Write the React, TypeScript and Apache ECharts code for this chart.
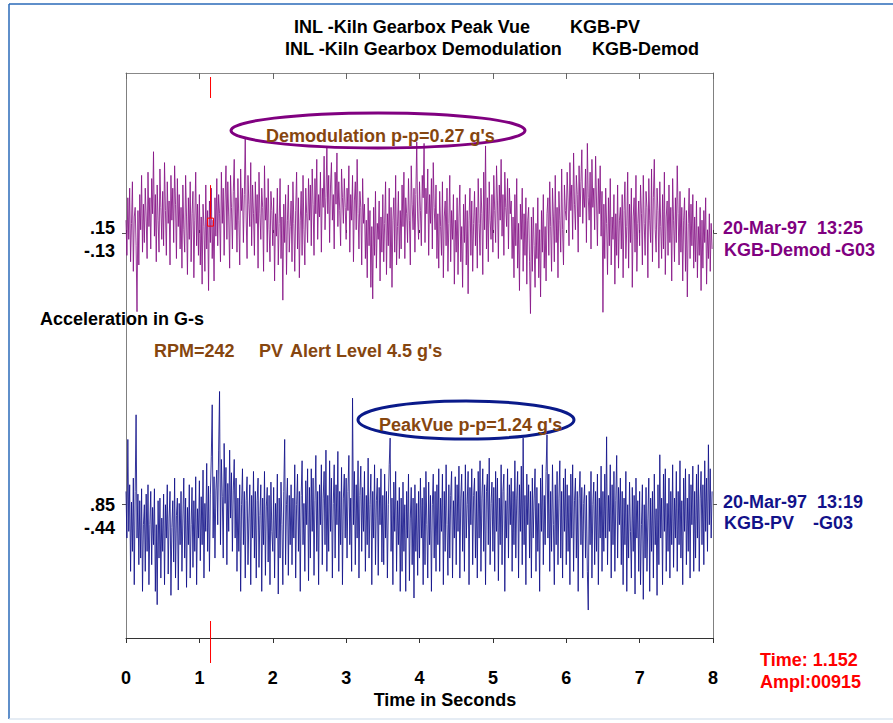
import React, { useEffect, useRef } from "react";
import * as echarts from "echarts";

// ---- Data ----
const sampleStepSeconds = 0.0125;
const timeTicks = [0, 1, 2, 3, 4, 5, 6, 7, 8];

// Demodulation waveform, milli-g
const demodMilliG = [
  20, -35, 55, -10, 70, -45, 15, 80, -60, 25, 40, -20, -123, 35, -50, 60, 5, 90, -30, 45,
  -15, 70, 25, -40, 95, 10, 55, -25, 85, 30, 127, -5, 60, -45, 75, 20, -30, 100, 40, -10,
  65, -20, 110, 35, -35, 80, 15, 50, -50, 90, 20, 70, -15, 105, 45, -40, 85, 10, 60, -25,
  40, -55, 75, 5, -30, 90, 25, -65, 55, -10, 80, -45, 30, 65, -70, 20, 95, -20, 45, -35,
  60, -50, 25, -80, 45, 10, -60, 75, -25, 35, -90, 50, -15, 70, -40, 20, -75, 55, -5, 85,
  -20, 60, 30, -45, 95, 15, 70, -35, 50, 105, -10, 80, 25, -55, 90, 40, -25, 65, 115, 5,
  55, -30, 85, 20, -50, 100, 35, 70, -15, 60, 150, 25, -40, 90, 45, 10, 110, -20, 75, 30,
  -35, 80, 15, 60, -55, 95, 30, -10, 70, 40, -60, 105, 20, 55, -30, 85, 5, -45, 65, 35,
  -20, 55, -75, 30, -5, 70, -50, 15, 85, -40, 25, -105, 45, -15, 60, -65, 20, 75, -30, 10,
  50, -45, 80, 15, -60, 35, 95, -25, 55, -70, 20, 65, -35, 90, 5, -50, 70, 30, -15, 85,
  20, 75, -20, 100, 45, -35, 85, 30, 115, -10, 60, 25, 95, -30, 70, 40, 120, 5, 55, 134,
  30, 90, -15, 75, 110, 20, 60, -25, 95, 45, 125, 10, 80, 35, -20, 100, 55, 15, 85, 40,
  -10, 70, 35, 105, -30, 60, 20, 90, -45, 50, 80, 5, 115, 30, -25, 65, 40, -50, 85, 15,
  45, -40, 20, -70, 55, -20, 35, -85, 10, -103, 40, -35, 65, -55, 15, -10, 50, -75, 25, -30,
  60, -45, 15, 80, -65, 30, -20, 70, -55, 40, -85, 20, 55, -30, 90, -50, 10, 65, -40, 35,
  -25, 75, 10, 95, -40, 55, 30, -15, 85, 20, -50, 105, 45, 5, 70, -30, 60, 142, 25, -10,
  80, 35, -20, 90, 55, 140, -15, 70, 30, 100, -35, 60, 15, 85, -25, 110, 40, 5, 75, -40,
  30, -55, 65, 10, -35, 80, -70, 25, 50, -20, 70, -60, 15, 90, -45, 35, -10, 60, -80, 20,
  -30, 55, -65, 25, 75, -45, 10, -85, 45, -15, 60, -50, 35, -95, 20, 70, -35, 50, -60, 15,
  65, -20, 40, -55, 85, 15, -35, 70, 30, -65, 95, 5, 136, -25, 55, -45, 80, 20, -10, 60,
  -30, 90, 35, -15, 105, 50, -40, 75, 20, 115, -5, 60, -35, 95, 40, 10, 85, -25, 70, 30,
  50, -40, 25, -70, 60, -20, 85, -55, 15, -90, 45, -10, 70, -60, 30, -35, 55, -80, 20, 40,
  -45, -126, 25, -60, 40, -20, -85, 15, -40, 55, -70, 5, -100, 35, -30, 60, -55, 10, -75, 30,
  55, -35, 80, 10, -60, 70, 25, -45, 90, -15, 40, -70, 65, 20, -30, 100, 5, -50, 75, 35,
  20, 95, 50, -20, 110, 35, 75, -10, 125, 45, 5, 90, 60, -30, 105, 25, 80, 130, 15, 70,
  40, 100, -15, 140, 55, 20, 95, -25, 115, 40, 70, 5, 120, 50, -20, 85, 30, 105, -5, 65,
  -124, 45, -40, 70, 15, -65, 55, -20, 85, -50, 25, -10, 60, -80, 30, -35, 75, -55, 20, 40,
  -25, 60, -70, 35, 80, -40, 10, 95, -55, 45, -15, 70, -85, 25, 55, -30, 90, -60, 15, 50,
  -20, 75, 30, -50, 90, 15, -35, 65, 40, -70, 85, 20, -15, 100, -45, 55, 115, 5, -30, 70,
  35, -55, 80, 10, -40, 60, -25, 95, -65, 25, 50, -35, 75, -15, 40, -75, 85, 20, -45, 55,
  -15, 105, 30, -50, 65, -30, 40, -75, 20, 55, -60, 35, -100, 15, 70, -40, 45, -20, 60, -55,
  25, -45, 50, -70, 10, -35, 40, -90, 20, -55, 35, -15, 55, -80, 5, -40, 30, -60, 15, -25,
];

// PeakVue waveform, milli-g
const peakVueMilliG = [
  100, -250, 490, -200, 150, -500, 20, -350, 200, -600, 100, 675, -250, 80, -450, 30, -400, 120, -650, -150,
  0, -500, 80, -350, 150, -600, -150, 100, -450, -20, -300, 120, -650, -150, -750, 30, -400, 50, -550, -100,
  -350, 80, -600, 0, -250, 150, -520, -100, 100, -680, -170, 30, -430, 200, -550, -80, 50, -640, 10, -300,
  100, -500, -100, 200, -400, 50, -620, -20, -300, 150, -550, -150, 130, -470, 30, -350, 210, -600, -30, -250,
  180, -420, 60, -300, 260, -550, 10, -200, 310, -350, 140, -500, 80, 360, 750, -250, 210, -400, 110, 260,
  -150, 410, 850, -300, 340, 60, -400, 460, 10, 280, -450, 160, -200, 410, -100, 240, -350, 110, 340, -250,
  200, -500, 50, -350, 150, -650, 0, 270, -300, 100, -550, 30, 210, -450, -100, 150, -600, 70, -250, 250,
  -400, 100, -550, 30, 200, -470, -80, 150, -650, 50, -300, 250, -530, -10, 130, -430, 70, -600, 170, -200,
  -350, 130, -550, 10, -250, 230, -670, 50, -400, 170, -150, -600, 100, 490, -450, 0, 200, -530, 70, -300,
  150, -450, 50, -250, 300, -550, 0, 230, -350, 100, -650, 70, 330, -300, 10, -500, 180, -150, 270, -570,
  130, -400, 270, -200, 200, -530, 30, 370, -350, 100, -600, 150, -150, 300, -450, 50, 250, -300, 410, -500,
  70, -350, 330, -200, 200, -550, 10, 300, -400, 150, -150, 400, -500, 100, -300, 280, -600, 50, 230, -250,
  200, -400, 100, 370, -300, 50, -500, 800, -150, 250, -450, 150, -250, 330, -550, 70, 290, -350, 130, -200,
  250, -500, 70, -300, 350, -400, 0, 230, -600, 100, -250, 300, -450, 30, 200, -530, 130, -150, 270, -430,
  70, -450, 230, -250, 100, -550, 0, 300, 500, -350, 50, -600, 170, -200, 250, -500, 30, -300, 130, -650,
  50, -500, 170, -350, 0, -650, 100, -250, 230, -570, -100, 130, -450, 50, -700, 150, -350, 10, -530, 100,
  -400, 200, -250, 50, -600, 130, -450, 250, -150, -550, 170, -300, 70, -650, 0, 230, -400, 100, -500, 150,
  -300, 270, -500, 50, -200, 230, -600, 100, -350, 300, -150, -530, 150, -400, 70, 250, -550, 30, -250, 210,
  -450, 150, -200, 290, -550, 50, 230, -350, 100, -500, 300, -250, 0, 250, -600, 130, -150, 270, -450, 70,
  200, -400, 100, -550, 250, -250, 330, -500, 50, 270, -350, 150, -600, 100, 230, -300, 350, -450, 10, 170,
  -350, 130, -500, 250, -200, 200, -570, 50, -300, 300, -450, 100, 230, -650, 30, -250, 270, -400, 150, -150,
  200, -500, 100, -300, 330, -400, 50, 250, -550, 150, -200, 290, -450, 500, -300, 70, -600, 230, -150, 150,
  -400, 100, -550, 200, -250, 50, 270, -500, 130, -350, 10, -650, 200, -200, 300, -450, 70, -300, 250, 525,
  -250, 230, -500, 100, -350, 300, -150, -600, 150, -300, 250, -450, 50, 330, -400, 100, -550, 200, -200, 270,
  -450, 150, -350, 70, -600, 230, -250, 300, -500, 30, 200, -400, 100, -650, 50, 250, -300, 130, -550, 10,
  150, -400, 70, -500, -790, 100, -300, 250, -550, 0, 170, -450, 100, -350, 230, -600, 50, -250, 290, -500,
  100, -350, 230, -250, 510, -450, 70, -200, 300, -550, 150, -300, 250, -500, 30, 370, -400, 130, -150, 200,
  -450, 100, -600, 50, -300, 250, -650, 0, -400, 170, -200, -550, 130, -350, 70, -670, 200, -250, 30, -500,
  100, -600, -150, 150, -710, 0, -400, 130, -500, -100, 200, -650, 50, -350, 100, -550, 230, -300, -30, -680,
  150, -450, 375, -250, 50, -600, 230, -200, 270, -500, 10, -350, 200, -550, 100, -300, 300, -470, 50, -250,
  250, -500, 100, -300, 330, -400, 30, -600, 200, -200, 270, -450, 50, -350, 230, -550, 150, -150, 290, -500,
  100, -400, 230, -250, 300, -500, 50, 250, -300, 150, -450, 330, -200, 200, -350, 450, -150, 270, -250, 100,
];

const demodStatLabels = [".15", "-.13"];
const peakVueStatLabels = [".85", "-.44"];
const cursorTime = 1.152;
const cursorAmplMilliG = 9.15;

// ---- Styling ----
const FONT = '"Liberation Sans", Arial, Helvetica, sans-serif';
const PURPLE = "#861486";
const PURPLE_DARK = "#800080";
const NAVY = "#12128a";
const BROWN = "#86460f";
const RED = "#ff0000";

function txt(x: number, y: number, text: string, fill: string, align = "left", size = 18) {
  return {
    type: "text",
    x,
    y,
    z: 50,
    style: {
      text,
      fill,
      font: `bold ${size}px ${FONT}`,
      align,
      verticalAlign: "middle",
    },
  };
}

export default function App() {
  const ref = useRef<HTMLDivElement>(null);

  useEffect(() => {
    if (!ref.current) return;
    const chart = echarts.init(ref.current, null, { renderer: "svg" });

    const demodData = demodMilliG.map((v, i) => [i * sampleStepSeconds, v]);
    const pvData = peakVueMilliG.map((v, i) => [i * sampleStepSeconds, v]);

    const yCommon = (min: number, max: number, position: string, showLine: boolean) => ({
      type: "value",
      min,
      max,
      position,
      axisLine: { show: showLine, onZero: false, lineStyle: { color: "#808080", width: 1 } },
      axisTick: { show: true, length: 4, customValues: [0], lineStyle: { color: "#555" } },
      axisLabel: { show: false },
      splitLine: { show: false },
    });

    chart.setOption({
      animation: false,
      backgroundColor: "#ffffff",
      grid: { left: 126, right: 180, top: 73, bottom: 85, containLabel: false },
      xAxis: [
        {
          type: "value",
          min: timeTicks[0],
          max: timeTicks[timeTicks.length - 1],
          interval: 1,
          position: "bottom",
          axisLine: { show: true, onZero: false, lineStyle: { color: "#333", width: 1 } },
          axisTick: { show: true, length: 5, lineStyle: { color: "#333" } },
          axisLabel: {
            show: true,
            fontSize: 18,
            fontWeight: "bold",
            fontFamily: FONT,
            color: "#000",
            margin: 31,
          },
          splitLine: { show: false },
        },
        {
          type: "value",
          min: 0,
          max: 8,
          interval: 1,
          position: "top",
          axisLine: { show: true, onZero: false, lineStyle: { color: "#888", width: 1 } },
          axisTick: { show: true, inside: true, length: 6, lineStyle: { color: "#666" } },
          axisLabel: { show: false },
          splitLine: { show: false },
        },
        {
          type: "value",
          min: 0,
          max: 8,
          interval: 1,
          position: "bottom",
          axisLine: { show: false },
          axisTick: { show: true, inside: true, length: 3, lineStyle: { color: "#333" } },
          axisLabel: { show: false },
          splitLine: { show: false },
        },
      ],
      yAxis: [
        yCommon(-633, 250, "left", true),
        yCommon(-633, 250, "right", true),
        yCommon(-1000, 3240, "left", false),
        yCommon(-1000, 3240, "right", false),
      ],
      series: [
        {
          type: "line",
          xAxisIndex: 0,
          yAxisIndex: 0,
          data: demodData,
          showSymbol: false,
          silent: true,
          lineStyle: { color: PURPLE, width: 0.9, opacity: 0.95 },
        },
        {
          type: "line",
          xAxisIndex: 0,
          yAxisIndex: 2,
          data: pvData,
          showSymbol: false,
          silent: true,
          lineStyle: { color: NAVY, width: 0.9, opacity: 0.95 },
        },
      ],
    });

    const cx = chart.convertToPixel({ xAxisIndex: 0 }, cursorTime) as number;
    const cy = chart.convertToPixel({ yAxisIndex: 0 }, cursorAmplMilliG) as number;

    const graphic: any[] = [
      // frame
      { type: "line", shape: { x1: 9, y1: 4, x2: 893, y2: 4 }, style: { stroke: "#2a6ab8", lineWidth: 1.5 } },
      { type: "line", shape: { x1: 9, y1: 4, x2: 9, y2: 719 }, style: { stroke: "#2a6ab8", lineWidth: 1.5 } },
      { type: "line", shape: { x1: 9, y1: 719, x2: 893, y2: 719 }, style: { stroke: "#dde6f0", lineWidth: 1.5 } },
      // titles
      txt(294, 27, "INL -Kiln Gearbox Peak Vue", "#000"),
      txt(570, 27, "KGB-PV", "#000"),
      txt(285, 49, "INL -Kiln Gearbox Demodulation", "#000"),
      txt(592, 49, "KGB-Demod", "#000"),
      // left labels
      txt(115, 228, demodStatLabels[0], "#000", "right"),
      txt(115, 251, demodStatLabels[1], "#000", "right"),
      txt(115, 505, peakVueStatLabels[0], "#000", "right"),
      txt(115, 528, peakVueStatLabels[1], "#000", "right"),
      txt(40, 319, "Acceleration in G-s", "#000"),
      // brown notes
      txt(154, 351, "RPM=242", BROWN),
      txt(259, 351, "PV", BROWN),
      txt(290, 351, "Alert Level 4.5 g's", BROWN),
      // ellipses
      {
        type: "ellipse",
        z: 40,
        shape: { cx: 378, cy: 130.5, rx: 147, ry: 17.5 },
        style: { fill: "none", stroke: PURPLE_DARK, lineWidth: 3 },
      },
      {
        type: "ellipse",
        z: 40,
        shape: { cx: 466, cy: 420, rx: 108, ry: 19 },
        style: { fill: "none", stroke: "#0a1a8a", lineWidth: 3 },
      },
      txt(266, 136, "Demodulation p-p=0.27 g's", BROWN),
      txt(379, 425, "PeakVue p-p=1.24 g's", BROWN),
      // right labels
      txt(723, 228, "20-Mar-97", PURPLE_DARK),
      txt(817, 228, "13:25", PURPLE_DARK),
      txt(724, 250, "KGB-Demod", PURPLE_DARK),
      txt(835, 250, "-G03", PURPLE_DARK),
      txt(723, 502, "20-Mar-97", NAVY),
      txt(817, 502, "13:19", NAVY),
      txt(724, 523, "KGB-PV", NAVY),
      txt(813, 523, "-G03", NAVY),
      // axis title
      txt(445, 700, "Time in Seconds", "#000", "center"),
      // cursor readout
      txt(760, 660, "Time: " + cursorTime.toFixed(3), RED),
      txt(760, 682, "Ampl:00915", RED),
      // cursor marks
      { type: "line", z: 45, shape: { x1: cx, y1: 77, x2: cx, y2: 98 }, style: { stroke: RED, lineWidth: 1 } },
      { type: "line", z: 45, shape: { x1: cx, y1: 621, x2: cx, y2: 663 }, style: { stroke: RED, lineWidth: 1 } },
      { type: "line", z: 45, shape: { x1: cx, y1: cy - 42, x2: cx, y2: cy - 9 }, style: { stroke: RED, lineWidth: 1 } },
      { type: "rect", z: 45, shape: { x: cx - 3, y: cy - 9, width: 6, height: 8 }, style: { fill: "none", stroke: RED, lineWidth: 1 } },
    ];

    chart.setOption({ graphic });

    return () => chart.dispose();
  }, []);

  return (
    <div
      ref={ref}
      style={{ position: "fixed", left: 0, top: 0, width: 893, height: 723, background: "#fff" }}
    />
  );
}
